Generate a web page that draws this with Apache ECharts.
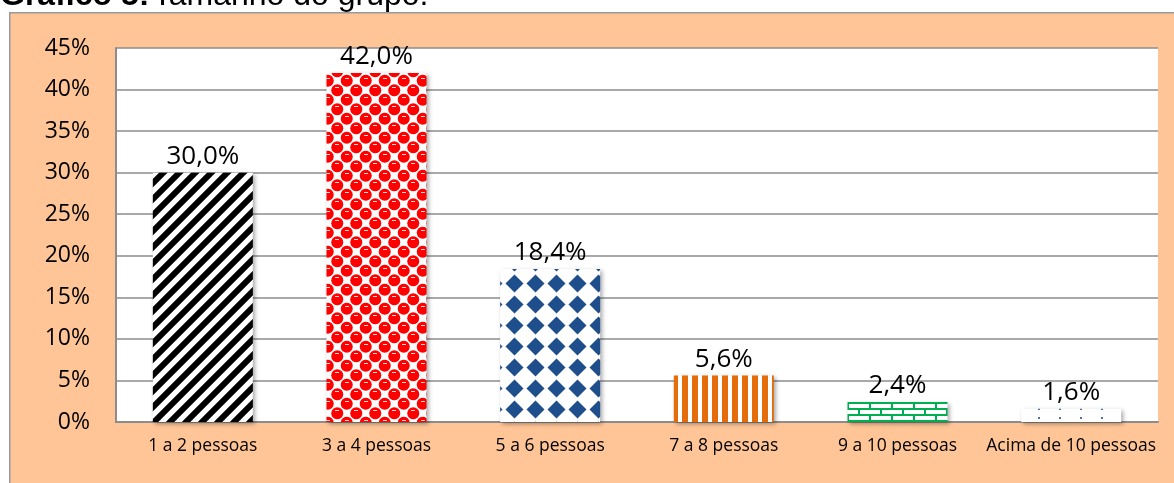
<!DOCTYPE html>
<html>
<head>
<meta charset="utf-8">
<script src="https://cdn.jsdelivr.net/npm/echarts@6/dist/echarts.min.js"></script>
<style>
  html, body { margin: 0; padding: 0; background: #fff; }
  #chart { width: 1174px; height: 483px; }
</style>
</head>
<body>
<div id="chart"></div>
<script>
// dados do gráfico
const categorias = ['1 a 2 pessoas', '3 a 4 pessoas', '5 a 6 pessoas', '7 a 8 pessoas', '9 a 10 pessoas', 'Acima de 10 pessoas'];
const percentuais = [30.0, 42.0, 18.4, 5.6, 2.4, 1.6];
const eixoY = { min: 0, max: 45, interval: 5 };

// cria um canvas pequeno para usar como textura
function tile(w, h, draw) {
  const c = document.createElement('canvas');
  c.width = w; c.height = h;
  const ctx = c.getContext('2d');
  ctx.fillStyle = '#fff';
  ctx.fillRect(0, 0, w, h);
  draw(ctx);
  return { image: c, repeat: 'repeat' };
}

// listras diagonais pretas
const listras = tile(16, 16, ctx => {
  ctx.strokeStyle = '#000';
  ctx.lineWidth = 6;
  for (let k = -16; k <= 16; k += 16) {
    ctx.beginPath();
    ctx.moveTo(k - 16, 32);
    ctx.lineTo(k + 32, -16);
    ctx.stroke();
  }
});

// esferas vermelhas
const esferas = tile(19, 19, ctx => {
  ctx.fillStyle = '#ff0000';
  const pts = [];
  for (let a = -1; a <= 1; a++) {
    for (let b = -1; b <= 1; b++) {
      pts.push([4.75 + a * 19, 4.75 + b * 19], [14.25 + a * 19, 14.25 + b * 19]);
    }
  }
  pts.forEach(p => {
    ctx.beginPath();
    ctx.arc(p[0], p[1], 6, 0, Math.PI * 2);
    ctx.fill();
  });
  ctx.fillStyle = '#ffd6d6';
  ctx.fillRect(3, 2, 4, 1);
  ctx.fillRect(12, 11, 4, 1);
});

// losangos azuis
const losangos = tile(21, 21, ctx => {
  ctx.fillStyle = '#1f4e8c';
  ctx.beginPath();
  ctx.moveTo(10.5, 1.5); ctx.lineTo(19.5, 10.5); ctx.lineTo(10.5, 19.5); ctx.lineTo(1.5, 10.5);
  ctx.closePath();
  ctx.fill();
});

// listras verticais laranja
const verticais = tile(10, 10, ctx => {
  ctx.fillStyle = '#e46c0a';
  ctx.fillRect(2, 0, 6, 10);
});

// tijolos verdes
const tijolos = tile(22, 12, ctx => {
  ctx.fillStyle = '#00b050';
  ctx.fillRect(0, 0, 22, 2);
  ctx.fillRect(0, 6, 22, 2);
  ctx.fillRect(0, 2, 2, 4);
  ctx.fillRect(11, 8, 2, 4);
});

// pontinhos
const pontos = tile(21, 9, ctx => {
  ctx.fillStyle = '#4f6fa8';
  ctx.fillRect(9, 3, 2, 2);
});

const texturas = [listras, esferas, losangos, verticais, tijolos, pontos];

const myChart = echarts.init(document.getElementById('chart'));

const options = {
  backgroundColor: '#fff',
  animation: false,
  textStyle: { fontFamily: '"Open Sans", sans-serif' },
  graphic: [
    {
      type: 'rect',
      left: 9, top: 12,
      shape: { width: 1170, height: 480 },
      style: { fill: '#ffc596', stroke: '#999', lineWidth: 1.5 },
      z: -10
    },
    {
      type: 'text',
      left: 0, top: -20,
      style: {
        rich: {
          b: { fontFamily: 'Liberation Sans, Arial', fontWeight: 'bold', fontSize: 32, lineHeight: 32, fill: '#000' },
          n: { fontFamily: 'Liberation Sans, Arial', fontSize: 32, lineHeight: 32, fill: '#000' }
        },
        text: '{b|Gráfico 5:} {n|Tamanho do grupo.}'
      },
      z: -20
    }
  ],
  grid: {
    left: 116, right: 16, top: 48, bottom: 61,
    show: true,
    backgroundColor: '#fff',
    borderWidth: 0
  },
  xAxis: {
    type: 'category',
    data: categorias,
    axisLine: { lineStyle: { color: '#8c8c8c', width: 2 } },
    axisTick: { show: false },
    axisLabel: { color: '#000', fontSize: 17.5, margin: 15, interval: 0, fontFamily: '"Open Sans", sans-serif' }
  },
  yAxis: {
    type: 'value',
    min: eixoY.min, max: eixoY.max, interval: eixoY.interval,
    axisLine: { show: true, lineStyle: { color: '#8c8c8c', width: 2 } },
    axisTick: { show: false },
    splitLine: { lineStyle: { color: '#8c8c8c', width: 1.5 } },
    axisLabel: { color: '#000', fontSize: 23, margin: 26, formatter: '{value}%', fontFamily: '"Open Sans", sans-serif' }
  },
  series: [
    {
      type: 'bar',
      barWidth: 100,
      data: percentuais.map((v, i) => ({
        value: v,
        itemStyle: {
          color: texturas[i],
          shadowColor: 'rgba(0,0,0,0.35)',
          shadowBlur: 4,
          shadowOffsetX: 2,
          shadowOffsetY: 2
        }
      })),
      label: {
        show: true,
        position: 'top',
        distance: 3,
        color: '#000',
        fontSize: 26,
        fontFamily: '"Open Sans", sans-serif',
        formatter: p => p.value.toFixed(1).replace('.', ',') + '%'
      }
    }
  ]
};

myChart.setOption(options);
</script>
</body>
</html>
